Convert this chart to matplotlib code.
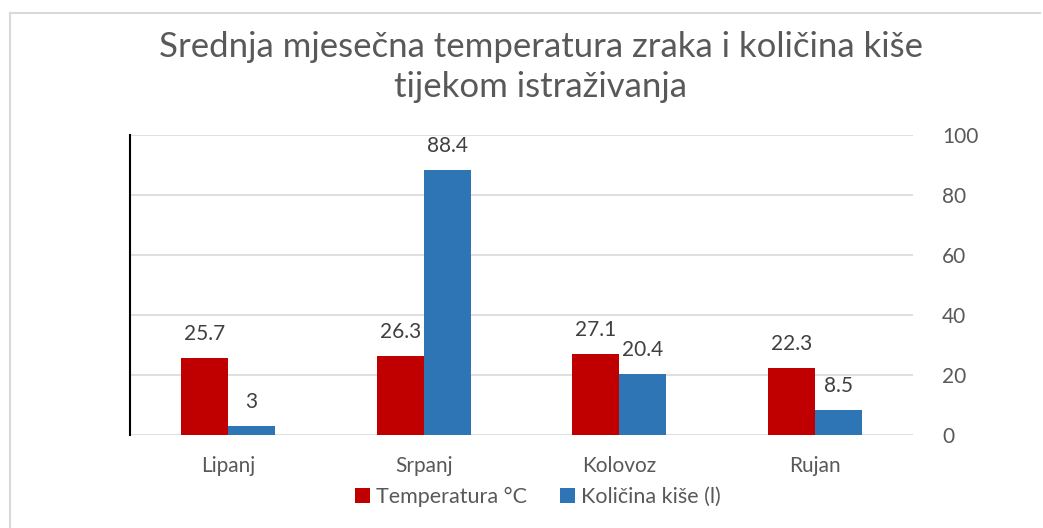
import matplotlib.pyplot as plt
import numpy as np
from matplotlib.lines import Line2D

plt.rcParams['font.family'] = ['Lato', 'DejaVu Sans']

months = ["Lipanj", "Srpanj", "Kolovoz", "Rujan"]
temperature = [25.7, 26.3, 27.1, 22.3]
rainfall = [3, 88.4, 20.4, 8.5]
y_ticks = [0, 20, 40, 60, 80, 100]

red = "#C00000"
blue = "#2E75B6"
grey_text = "#595959"
label_text = "#404040"

fig = plt.figure(figsize=(10.43, 5.28), dpi=100)
ax = fig.add_axes([130 / 1043, 93 / 528, 783 / 1043, 300 / 528])

x = np.arange(len(months))
w = 0.24
b1 = ax.bar(x - w / 2, temperature, w, color=red, label="Temperatura °C", zorder=3)
b2 = ax.bar(x + w / 2, rainfall, w, color=blue, label="Količina kiše (l)", zorder=3)

for bars, vals in ((b1, temperature), (b2, rainfall)):
    for bar, v in zip(bars, vals):
        ax.annotate(f"{v:g}", (bar.get_x() + bar.get_width() / 2, v),
                    xytext=(0, 10), textcoords="offset points",
                    ha="center", va="bottom", fontsize=15, color=label_text)

ax.set_xlim(-0.5, len(months) - 0.5)
ax.set_ylim(0, 100)
ax.set_yticks(y_ticks)
ax.yaxis.tick_right()
ax.tick_params(axis="y", length=0, pad=21, labelsize=15, labelcolor=grey_text)
ax.set_xticks(x)
ax.set_xticklabels(months)
ax.tick_params(axis="x", length=0, pad=15, labelsize=15, labelcolor=grey_text)
ax.grid(axis="y", color="#D9D9D9", linewidth=1.2, zorder=0)
ax.set_axisbelow(True)

for side in ("top", "right", "bottom"):
    ax.spines[side].set_visible(False)
ax.spines["left"].set_color("black")
ax.spines["left"].set_linewidth(1.5)

fig.text(541 / 1043, 1 - 67 / 528, "Srednja mjesečna temperatura zraka i količina kiše\ntijekom istraživanja",
         ha="center", va="center", fontsize=25, color=grey_text, linespacing=1.3)

fig.legend(handles=[b1, b2], loc="center", bbox_to_anchor=(538 / 1043, 1 - 497 / 528),
           ncol=2, frameon=False, fontsize=15.5, labelcolor=grey_text,
           handlelength=0.7, handleheight=0.7, handletextpad=0.3, columnspacing=1.5)

# chart frame, left and top edges only
fig.add_artist(Line2D([10 / 1043, 10 / 1043], [0, 1 - 13 / 528], transform=fig.transFigure,
                      color="#D9D9D9", linewidth=1.5))
fig.add_artist(Line2D([10 / 1043, 1040 / 1043], [1 - 13 / 528, 1 - 13 / 528], transform=fig.transFigure,
                      color="#D9D9D9", linewidth=1.5))

fig.savefig("out.png", dpi=100)
